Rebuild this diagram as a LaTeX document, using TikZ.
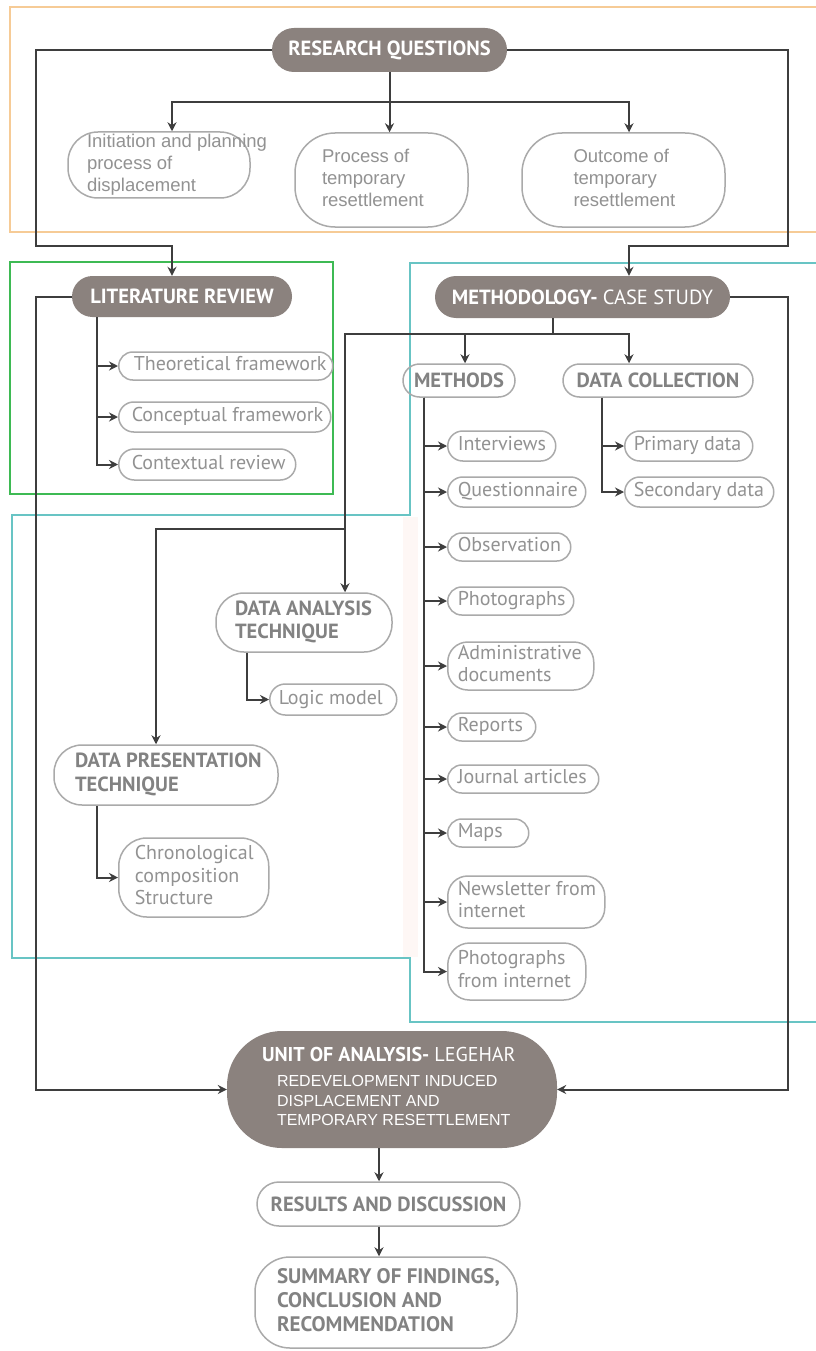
\documentclass[tikz,border=0pt]{standalone}
\usepackage{fontspec}
\usepackage{xcolor}
\usepackage{tikz}
\usetikzlibrary{arrows.meta,positioning}
\newfontfamily\myriad{PT Sans}
\newfontfamily\arial{Liberation Sans}
\definecolor{pillgray}{RGB}{139,130,126}
\definecolor{boxline}{RGB}{170,170,170}
\definecolor{labelgray}{RGB}{146,146,146}
\definecolor{headgray}{RGB}{130,130,130}
\definecolor{linkgray}{RGB}{62,62,62}
\definecolor{framebeige}{RGB}{246,203,150}
\definecolor{framegreen}{RGB}{62,186,84}
\definecolor{frameteal}{RGB}{104,196,196}
\definecolor{stripe}{RGB}{254,247,245}
\newcommand\boxlines[2]{\makebox[#1][l]{\begin{tabular}{@{}l@{}}#2\end{tabular}}}

\begin{document}
\begin{tikzpicture}[x=1pt,y=-1pt,
    dark/.style={fill=pillgray,text=white,inner sep=0pt,font=\myriad\bfseries\fontsize{20.5}{23}\selectfont},
    head/.style={draw=boxline,line width=1.5pt,text=headgray,inner sep=0pt,font=\myriad\bfseries\fontsize{20.5}{23.5}\selectfont},
    item/.style={draw=boxline,line width=1.5pt,text=labelgray,inner sep=0pt,anchor=west,font=\myriad\fontsize{20}{22.5}\selectfont},
    question/.style={draw=boxline,line width=1.5pt,text=labelgray,inner sep=0pt,font=\arial\fontsize{18.5}{22}\selectfont},
    frame/.style={line width=1.6pt},
    link/.style={draw=linkgray,line width=2pt},
    arr/.style={link,-{Stealth[length=9pt,width=9pt,inset=3pt]}}]
    \useasboundingbox (0,0) rectangle (815,1351);
    \fill[white] (0,0) rectangle (815,1351);

    \fill[stripe] (403,517) rectangle (418,957);
    \draw[frame,framebeige] (10,7) rectangle (830,232);
    \draw[frame,framegreen] (10,262) rectangle (333,494);
    \draw[frame,frameteal] (830,263) -- (410,263) -- (410,515) -- (12,515) -- (12,958) -- (410,958) -- (410,1022) -- (830,1022);

    \node[dark,minimum width=235pt,minimum height=44pt,rounded corners=22pt] (rq) at (389.5,50) {RESEARCH QUESTIONS};
    \node[question,minimum width=182pt,minimum height=64pt,rounded corners=30pt] (ip) at (159,165) {\boxlines{144pt}{Initiation and planning\\process of\\displacement}};
    \node[question,minimum width=173pt,minimum height=94pt,rounded corners=40pt] (pt) at (381.5,180) {\boxlines{119pt}{Process of\\temporary\\resettlement}};
    \node[question,minimum width=203pt,minimum height=94pt,rounded corners=40pt] (ot) at (623.5,180) {\boxlines{100pt}{Outcome of\\temporary\\resettlement}};

    \node[dark,minimum width=220pt,minimum height=41pt,rounded corners=20.5pt] (lr) at (182,296.5) {LITERATURE REVIEW};
    \node[item,minimum width=214pt,minimum height=28pt,rounded corners=14pt] (tf) at (118,366) {\boxlines{184pt}{Theoretical framework}};
    \node[item,minimum width=212pt,minimum height=30pt,rounded corners=15pt] (cf) at (118,417) {\boxlines{186pt}{Conceptual framework}};
    \node[item,minimum width=177pt,minimum height=31pt,rounded corners=15.5pt] (cr) at (118,464.5) {\boxlines{151pt}{Contextual review}};

    \node[dark,minimum width=295pt,minimum height=42pt,rounded corners=21pt] (meth) at (582.5,297) {METHODOLOGY- {\mdseries CASE STUDY}};
    \node[head,minimum width=112pt,minimum height=33pt,rounded corners=16.5pt] (mtd) at (459,380.5) {METHODS};
    \node[head,minimum width=190pt,minimum height=33pt,rounded corners=16.5pt] (dc) at (658,380.5) {DATA COLLECTION};

    \node[item,minimum width=108pt,minimum height=30pt,rounded corners=15pt] (iv) at (447,446) {\boxlines{88pt}{Interviews}};
    \node[item,minimum width=138pt,minimum height=30pt,rounded corners=15pt] (qn) at (447,492) {\boxlines{118pt}{Questionnaire}};
    \node[item,minimum width=123pt,minimum height=28pt,rounded corners=14pt] (ob) at (447,547) {\boxlines{103pt}{Observation}};
    \node[item,minimum width=126pt,minimum height=28pt,rounded corners=14pt] (ph) at (447,601) {\boxlines{106pt}{Photographs}};
    \node[item,minimum width=146pt,minimum height=48pt,rounded corners=20pt] (ad) at (447,666) {\boxlines{126pt}{Administrative\\documents}};
    \node[item,minimum width=88pt,minimum height=28pt,rounded corners=14pt] (rp) at (447,727) {\boxlines{68pt}{Reports}};
    \node[item,minimum width=151pt,minimum height=28pt,rounded corners=14pt] (ja) at (447,779) {\boxlines{131pt}{Journal articles}};
    \node[item,minimum width=81pt,minimum height=28pt,rounded corners=14pt] (mp) at (447,833) {\boxlines{61pt}{Maps}};
    \node[item,minimum width=157pt,minimum height=52pt,rounded corners=20pt] (nl) at (447,902) {\boxlines{137pt}{Newsletter from\\internet}};
    \node[item,minimum width=138pt,minimum height=57pt,rounded corners=22pt] (pi) at (447,971.5) {\boxlines{118pt}{Photographs\\from internet}};

    \node[item,minimum width=128pt,minimum height=30pt,rounded corners=15pt] (pd) at (624,446) {\boxlines{110pt}{Primary data}};
    \node[item,minimum width=149pt,minimum height=30pt,rounded corners=15pt] (sd) at (624,492) {\boxlines{131pt}{Secondary data}};

    \node[head,minimum width=176pt,minimum height=59pt,rounded corners=28pt] (dat) at (304,622.5) {\boxlines{138pt}{DATA ANALYSIS\\TECHNIQUE}};
    \node[item,minimum width=127pt,minimum height=31pt,rounded corners=15.5pt] (lm) at (269,699.5) {\boxlines{109pt}{Logic model}};
    \node[head,minimum width=224pt,minimum height=60pt,rounded corners=28pt] (dpt) at (166,775) {\boxlines{182pt}{DATA PRESENTATION\\TECHNIQUE}};
    \node[item,minimum width=150pt,minimum height=79pt,rounded corners=28pt] (cc) at (118,877.5) {\boxlines{118pt}{Chronological\\composition\\Structure}};

    \node[dark,minimum width=330pt,minimum height=117pt,rounded corners=55pt,font=\arial\fontsize{16}{19.5}\selectfont] (uoa) at (392,1089.5) {\boxlines{260pt}{{\myriad\bfseries\fontsize{20}{22}\selectfont UNIT OF ANALYSIS- {\mdseries LEGEHAR}}\\[6pt]\hspace{15pt}REDEVELOPMENT INDUCED\\\hspace{15pt}DISPLACEMENT AND\\\hspace{15pt}TEMPORARY RESETTLEMENT}};
    \node[head,minimum width=263pt,minimum height=44pt,rounded corners=22pt] (res) at (388.5,1204) {RESULTS AND DISCUSSION};
    \node[head,font=\myriad\bfseries\fontsize{21}{24}\selectfont,minimum width=262pt,minimum height=91pt,rounded corners=35pt] (sum) at (386,1302.5) {\boxlines{218pt}{SUMMARY OF FINDINGS,\\CONCLUSION AND\\RECOMMENDATION}};

    \coordinate (rqfork) at (389.5,102);
    \coordinate (lbus) at (36,246);
    \coordinate (rbus) at (788,246);
    \coordinate (mfork) at (553,334);
    \coordinate (pfork) at (345,529);

    \draw[link] (rq.south) -- (rqfork);
    \draw[arr] (rqfork) -| ([xshift=13pt]ip.north);
    \draw[arr] (rqfork) -- (rqfork |- pt.north);
    \draw[arr] (rqfork) -| ([xshift=5.5pt]ot.north);
    \draw[arr] (rq.west) -| (lbus) -| ([xshift=-10pt]lr.north);
    \draw[arr] (rq.east) -| (rbus) -| ([xshift=46.5pt]meth.north);
    \draw[arr] (lr.west) -| (lbus |- uoa.west) -- (uoa.west);
    \draw[arr] (meth.east) -| (rbus |- uoa.east) -- (uoa.east);

    \coordinate (lrtrunk) at ([xshift=-85pt]lr.south);
    \draw[arr] (lrtrunk) |- (tf.west);
    \draw[arr] (lrtrunk) |- (cf.west);
    \draw[arr] (lrtrunk) |- (cr.west);

    \draw[link] (meth.south -| mfork) -- (mfork);
    \draw[arr] (mfork) -| ([xshift=6pt]mtd.north);
    \draw[arr] (mfork) -| ([xshift=-29pt]dc.north);
    \draw[arr] (mfork) -| ([xshift=41pt]dat.north);
    \draw[arr] (pfork) -| ([xshift=-10pt]dpt.north);

    \coordinate (mtrunk) at ([xshift=-35pt]mtd.south);
    \draw[arr] (mtrunk) |- (iv.west);
    \draw[arr] (mtrunk) |- (qn.west);
    \draw[arr] (mtrunk) |- (ob.west);
    \draw[arr] (mtrunk) |- (ph.west);
    \draw[arr] (mtrunk) |- (ad.west);
    \draw[arr] (mtrunk) |- (rp.west);
    \draw[arr] (mtrunk) |- (ja.west);
    \draw[arr] (mtrunk) |- (mp.west);
    \draw[arr] (mtrunk) |- (nl.west);
    \draw[arr] (mtrunk) |- (pi.west);

    \coordinate (dctrunk) at ([xshift=-56pt]dc.south);
    \draw[arr] (dctrunk) |- (pd.west);
    \draw[arr] (dctrunk) |- (sd.west);

    \draw[arr] ([xshift=-57pt]dat.south) |- (lm.west);
    \draw[arr] ([xshift=-69pt]dpt.south) |- (cc.west);

    \coordinate (utrunk) at ([xshift=-13pt]uoa.south);
    \draw[arr] (utrunk) -- (utrunk |- res.north);
    \draw[arr] (res.south -| utrunk) -- (sum.north -| utrunk);
\end{tikzpicture}
\end{document}
